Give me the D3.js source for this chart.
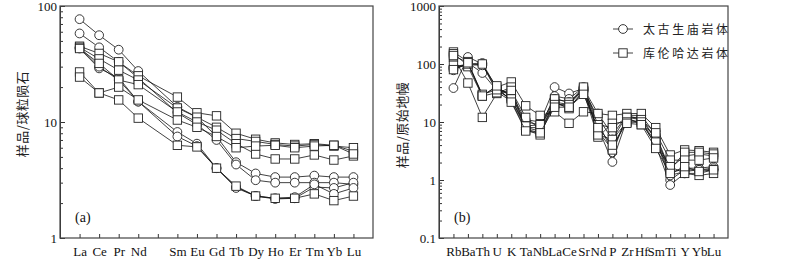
<!DOCTYPE html>
<html>
<head>
<meta charset="utf-8">
<script src="https://cdn.jsdelivr.net/npm/d3@7"></script>
<style>
  body { margin: 0; background: #fff; }
  svg { display: block; }
  .axis line, .axis path { stroke: #333; }
  .ylab { font-family: "Noto Sans CJK SC", sans-serif; font-size: 13px; fill: #222; letter-spacing: 0.5px; }
  .leg { font-family: "Noto Sans CJK SC", sans-serif; font-size: 12px; fill: #222; letter-spacing: 2.6px; }
  .tag { font-family: "Liberation Serif", "Times New Roman", serif; font-size: 14px; fill: #111; }
</style>
</head>
<body>
<div id="chart"></div>
<script>
// ---- datos (a) REE /球粒陨石 ----
const reeLabels = ["La", "Ce", "Pr", "Nd", "", "Sm", "Eu", "Gd", "Tb", "Dy", "Ho", "Er", "Tm", "Yb", "Lu"];
const reeUsed = ["La", "Ce", "Pr", "Nd", "Sm", "Eu", "Gd", "Tb", "Dy", "Ho", "Er", "Tm", "Yb", "Lu"];
const reeTicks = [1, 10, 100];

// 太古生庙岩体 (circulos)
const reeCircle = [
  [77, 56, 42, 27.5, 13.5, 11, 7.5, 4.5, 3.6, 3.35, 3.35, 3.45, 3.35, 3.35],
  [58, 44, 33, 24, 12, 9.5, 7.0, 4.3, 3.15, 3.0, 3.0, 3.0, 3.0, 2.9],
  [43, 29, 24, 15, 8.2, 6.5, 4.0, 2.75, 2.3, 2.17, 2.2, 2.75, 2.7, 3.0],
  [44, 30, 23, 15, 7.5, 6.2, 4.0, 2.7, 2.3, 2.2, 2.25, 2.9, 2.4, 2.7]
];
// 库伦哈达岩体 (cuadrados)
const reeSquare = [
  [45, 39, 33, 25, 16.4, 12, 11.3, 8.0, 7.1, 6.6, 6.4, 6.5, 6.3, 5.6],
  [44, 35, 28, 23, 13.2, 11, 9.0, 7.2, 6.8, 6.4, 6.2, 6.4, 6.2, 6.0],
  [43, 32, 23, 21, 12.2, 10, 8.5, 6.5, 5.3, 4.8, 4.8, 5.2, 4.7, 5.1],
  [27, 17.8, 20, 15.5, 10.4, 9, 7.5, 6.0, 6.2, 6.3, 6.0, 6.2, 6.3, 5.3],
  [24.4, 17.8, 15.5, 10.8, 6.3, 6.1, 4.0, 2.8, 2.3, 2.2, 2.2, 2.4, 2.1, 2.3]
];

// ---- datos (b) 原始地幔 ----
const spiderLabels = ["Rb", "Ba", "Th", "U", "K", "Ta", "Nb", "La", "Ce", "Sr", "Nd", "P", "Zr", "Hf", "Sm", "Ti", "Y", "Yb", "Lu"];
const spiderTicks = [0.1, 1, 10, 100, 1000];

const spiderCircle = [
  [89, 100, 104, 38, 30, 11, 10, 40, 31, 38, 14, 6, 13, 13, 6, 1.3, 1.6, 1.6, 1.7],
  [78, 105, 70, 35, 25, 8, 8, 28, 25, 40, 10, 3, 12, 12, 5, 1.0, 1.5, 1.5, 1.6],
  [38.5, 132, 100, 33, 23, 7.5, 6.5, 22, 20, 36, 8, 2.05, 11, 10, 4, 0.82, 1.3, 1.3, 1.5],
  [85, 98, 95, 40, 28, 10, 9, 25, 22, 35, 12, 5, 13, 11, 5, 1.2, 1.4, 1.5, 1.5]
];
const spiderSquare = [
  [161, 110, 29, 40, 49, 19, 13, 15, 9.5, 15, 14, 13, 14, 14, 8, 2.7, 3.3, 3.2, 3.0],
  [132, 47, 12, 31, 40, 7.3, 6, 21, 18, 33, 5.5, 9.5, 10, 10, 4, 1.6, 2.6, 2.8, 2.6],
  [150, 95, 100, 35, 30, 8, 7, 22, 17, 35, 7, 3.3, 12, 9, 6, 1.5, 3.0, 3.0, 2.8],
  [95, 90, 28, 32, 35, 12, 7.5, 25, 22, 38, 9, 8, 12, 11, 6.5, 2.2, 2.2, 2.2, 2.4],
  [80, 100, 30, 36, 25, 8.5, 9, 20, 20, 40, 6, 5, 10, 10, 4.5, 1.7, 1.3, 1.2, 1.3],
  [140, 105, 28, 42, 22, 7, 6.5, 18, 18, 30, 8, 4, 9.5, 9, 3.5, 1.3, 1.7, 1.4, 1.5]
];

const legendNames = ["太古生庙岩体", "库伦哈达岩体"];

const svg = d3.select("#chart").append("svg").attr("width", 800).attr("height", 259);

// dibuja un simbolo (circulo o cuadrado) en cx, cy
const drawSymbol = (g, kind, cx, cy) => {
  if (kind === "circle") {
    g.append("circle").attr("cx", cx).attr("cy", cy).attr("r", 4.4)
      .attr("fill", "#fff").attr("stroke", "#222").attr("stroke-width", 0.9);
  } else {
    g.append("rect").attr("x", cx - 4.2).attr("y", cy - 4.2).attr("width", 8.4).attr("height", 8.4)
      .attr("fill", "#fff").attr("stroke", "#222").attr("stroke-width", 0.9);
  }
};

const serif = '"Liberation Serif", "Times New Roman", serif';

const drawPanel = (cfg) => {
  const g = svg.append("g");
  const x = d3.scaleLinear().domain([0, cfg.nSlots]).range([cfg.left, cfg.right]);
  const y = d3.scaleLog().domain(cfg.yDomain).range([cfg.bottom, cfg.top]);

  // ejes y (mayores y menores hacia dentro)
  const minors = [];
  cfg.yTicks.slice(0, -1).forEach((t) => { for (let k = 2; k <= 9; k++) minors.push(t * k); });
  g.append("g").attr("class", "axis").attr("transform", `translate(${cfg.left},0)`)
    .call(d3.axisLeft(y).tickValues(minors).tickSize(-3).tickSizeOuter(0).tickFormat(""));
  g.append("g").attr("class", "axis").attr("transform", `translate(${cfg.left},0)`)
    .call(d3.axisLeft(y).tickValues(cfg.yTicks).tickSize(-5).tickSizeOuter(0).tickPadding(3)
      .tickFormat((d) => (d < 1 ? "0.1" : d3.format("d")(d))))
    .attr("font-family", serif).attr("font-size", 13)
    .selectAll("text").attr("fill", "#111");

  // eje x con etiquetas de elementos
  const xAxis = g.append("g").attr("class", "axis").attr("transform", `translate(0,${cfg.bottom})`)
    .call(d3.axisBottom(x).tickValues(d3.range(1, cfg.labels.length + 1)).tickSize(-4).tickSizeOuter(0)
      .tickPadding(9).tickFormat((d) => cfg.labels[d - 1]))
    .attr("font-family", serif).attr("font-size", 13);
  xAxis.selectAll("text").attr("fill", "#111");
  xAxis.selectAll("path").remove();

  // marco
  g.append("rect").attr("x", cfg.left).attr("y", cfg.top)
    .attr("width", cfg.right - cfg.left).attr("height", cfg.bottom - cfg.top)
    .attr("fill", "none").attr("stroke", "#444").attr("stroke-width", 1.2);

  // series
  const line = d3.line().x((d) => x(d.p)).y((d) => y(d.v));
  const series = [];
  cfg.circles.forEach((s) => series.push({ kind: "circle", vals: s }));
  cfg.squares.forEach((s) => series.push({ kind: "square", vals: s }));
  series.forEach((s) => {
    const pts = s.vals.map((v, i) => ({ p: cfg.pos[i], v }));
    const sg = g.append("g");
    sg.append("path").attr("d", line(pts)).attr("fill", "none")
      .attr("stroke", "#111").attr("stroke-width", 0.8);
    pts.forEach((d) => drawSymbol(sg, s.kind, x(d.p), y(d.v)));
  });

  // etiqueta y
  g.append("text").attr("class", "ylab")
    .attr("transform", `translate(${cfg.ylabX},${cfg.ylabY}) rotate(-90)`)
    .attr("text-anchor", "middle").text(cfg.ylab);

  g.append("text").attr("class", "tag").attr("x", cfg.left + 15).attr("y", 222).text(cfg.tag);
  return g;
};

drawPanel({
  left: 60, right: 373, top: 6, bottom: 238, nSlots: 16,
  yDomain: [1, 100], yTicks: reeTicks, labels: reeLabels,
  pos: reeUsed.map((e) => reeLabels.indexOf(e) + 1),
  circles: reeCircle, squares: reeSquare,
  ylab: "样品/球粒陨石", ylabX: 27, ylabY: 114, tag: "(a)"
});

const gB = drawPanel({
  left: 439, right: 728, top: 6, bottom: 238, nSlots: 20,
  yDomain: [0.1, 1000], yTicks: spiderTicks, labels: spiderLabels,
  pos: d3.range(1, spiderLabels.length + 1),
  circles: spiderCircle, squares: spiderSquare,
  ylab: "样品/原始地幔", ylabX: 407, ylabY: 125, tag: "(b)"
});

// leyenda
legendNames.forEach((name, i) => {
  const ly = 29 + i * 24;
  gB.append("line").attr("x1", 613).attr("x2", 633).attr("y1", ly).attr("y2", ly)
    .attr("stroke", "#111").attr("stroke-width", 0.8);
  drawSymbol(gB, i === 0 ? "circle" : "square", 623, ly);
  gB.append("text").attr("class", "leg").attr("x", 643).attr("y", ly + 4.5).text(name);
});
</script>
</body>
</html>
